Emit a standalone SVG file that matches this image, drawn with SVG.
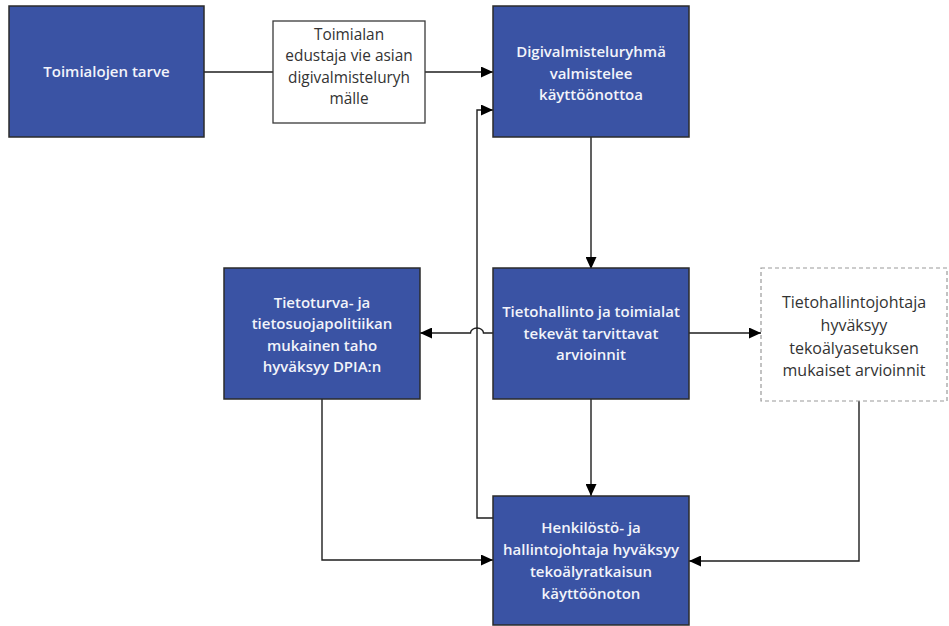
<svg xmlns="http://www.w3.org/2000/svg" width="949" height="626" viewBox="0 0 949 626">
<style>
.blue{fill:#3A53A4;stroke:#2B2B2B;stroke-width:1.5}
.white{fill:#FFFFFF;stroke:#3A3A3A;stroke-width:1.3}
.dash{fill:#FFFFFF;stroke:#9A9A9A;stroke-width:1.2;stroke-dasharray:4 3}
.wt{font-family:"Open Sans","Liberation Sans",sans-serif;font-size:15px;font-weight:600;fill:#F2F4FA;text-anchor:middle}
.dt{font-family:"Open Sans","Liberation Sans",sans-serif;font-size:16px;fill:#333333;text-anchor:middle}
.dt2{font-family:"Open Sans","Liberation Sans",sans-serif;font-size:15.4px;fill:#333333;text-anchor:middle}
.ln{fill:none;stroke:#1E1E1E;stroke-width:1.4}
.arr{marker-end:url(#ah)}
</style>
<defs>
<marker id="ah" markerUnits="userSpaceOnUse" markerWidth="13" markerHeight="11" refX="12" refY="5.5" orient="auto">
<path d="M0,0 L12,5.5 L0,11 z" fill="#000"/>
</marker>
</defs>
<g id="connectors">
<path class="ln" d="M204,72 H273"/>
<path class="ln arr" d="M425,72 H493"/>
<path class="ln arr" d="M591,137 V269"/>
<path class="ln arr" d="M689,333 H761"/>
<path class="ln arr" d="M493,333 H483.5 A6.5,5 0 0 0 470.5,333 H420"/>
<path class="ln arr" d="M591,399 V496"/>
<path class="ln arr" d="M322,399 V560 H493"/>
<path class="ln arr" d="M859,401 V561 H689"/>
<path class="ln arr" d="M493,518 H477 V110 H493"/>
</g>
<g id="n1">
<rect class="blue" x="9" y="6" width="195" height="131"/>
<text class="wt" x="106.5" y="77">Toimialojen tarve</text>
</g>
<g id="n2">
<rect class="white" x="273" y="21" width="152" height="102"/>
<text class="dt2" x="349" y="39.5">Toimialan</text>
<text class="dt2" x="349" y="61">edustaja vie asian</text>
<text class="dt2" x="349" y="82.5">digivalmisteluryh</text>
<text class="dt2" x="349" y="104">mälle</text>
</g>
<g id="n3">
<rect class="blue" x="493" y="6" width="196" height="131"/>
<text class="wt" x="591" y="57">Digivalmisteluryhmä</text>
<text class="wt" x="591" y="78.5">valmistelee</text>
<text class="wt" x="591" y="100">käyttöönottoa</text>
</g>
<g id="n4">
<rect class="blue" x="493" y="268" width="196" height="131"/>
<text class="wt" x="591" y="317">Tietohallinto ja toimialat</text>
<text class="wt" x="591" y="338.5">tekevät tarvittavat</text>
<text class="wt" x="591" y="360">arvioinnit</text>
</g>
<g id="n5">
<rect class="blue" x="224" y="268" width="196" height="131"/>
<text class="wt" x="322" y="307.5">Tietoturva- ja</text>
<text class="wt" x="322" y="329">tietosuojapolitiikan</text>
<text class="wt" x="322" y="350.5">mukainen taho</text>
<text class="wt" x="322" y="372">hyväksyy DPIA:n</text>
</g>
<g id="n6">
<rect class="dash" x="761" y="268" width="186" height="133"/>
<text class="dt" x="854" y="307.5">Tietohallintojohtaja</text>
<text class="dt" x="854" y="330.5">hyväksyy</text>
<text class="dt" x="854" y="353.5">tekoälyasetuksen</text>
<text class="dt" x="854" y="376">mukaiset arvioinnit</text>
</g>
<g id="n7">
<rect class="blue" x="493" y="496" width="196" height="129"/>
<text class="wt" x="591" y="533">Henkilöstö- ja</text>
<text class="wt" x="591" y="555">hallintojohtaja hyväksyy</text>
<text class="wt" x="591" y="577">tekoälyratkaisun</text>
<text class="wt" x="591" y="598.5">käyttöönoton</text>
</g>
</svg>
